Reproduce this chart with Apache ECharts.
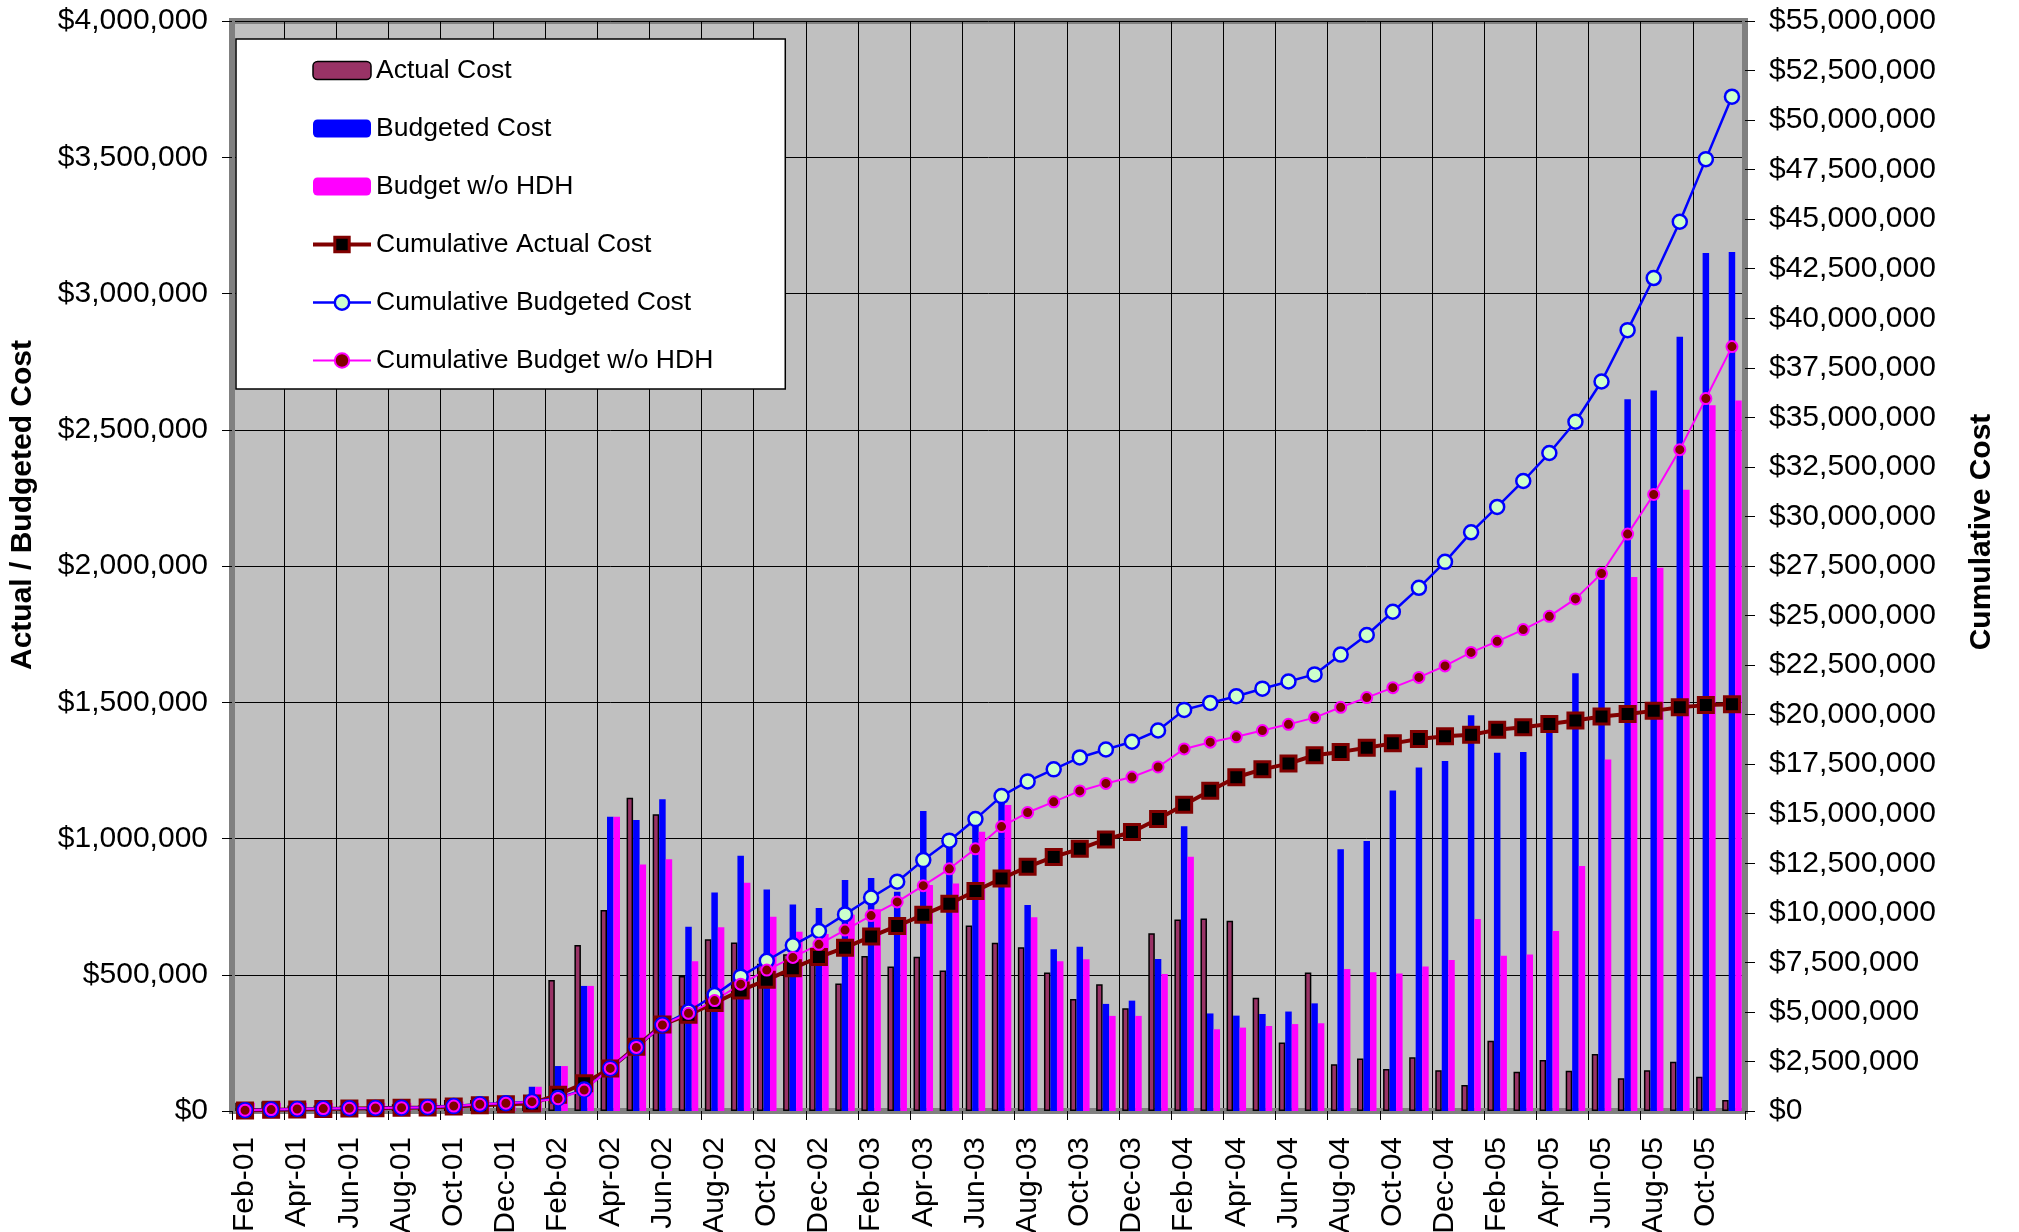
<!DOCTYPE html>
<html>
<head>
<meta charset="utf-8">
<title>Actual / Budgeted Cost</title>
<script src="https://cdn.jsdelivr.net/npm/echarts@6/dist/echarts.min.js"></script>
<style>
  html, body { margin: 0; padding: 0; background: #fff; }
  #chart { width: 2019px; height: 1232px; }
</style>
</head>
<body>
<div id="chart"></div>
<script>
// months on the category axis
const months = [
  "Feb-01", "Mar-01", "Apr-01", "May-01", "Jun-01", "Jul-01", "Aug-01", "Sep-01", "Oct-01", "Nov-01", "Dec-01",
  "Jan-02", "Feb-02", "Mar-02", "Apr-02", "May-02", "Jun-02", "Jul-02", "Aug-02", "Sep-02", "Oct-02", "Nov-02", "Dec-02",
  "Jan-03", "Feb-03", "Mar-03", "Apr-03", "May-03", "Jun-03", "Jul-03", "Aug-03", "Sep-03", "Oct-03", "Nov-03", "Dec-03",
  "Jan-04", "Feb-04", "Mar-04", "Apr-04", "May-04", "Jun-04", "Jul-04", "Aug-04", "Sep-04", "Oct-04", "Nov-04", "Dec-04",
  "Jan-05", "Feb-05", "Mar-05", "Apr-05", "May-05", "Jun-05", "Jul-05", "Aug-05", "Sep-05", "Oct-05", "Nov-05"
];

// monthly bars (left axis)
const actualCost = [
  30000, 35000, 20000, 20000, 20000, 15000, 25000, 20000, 40000, 40000, 35000, 30000,
  481000, 609000, 738000, 1150000, 1089000, 495000, 630000, 618000, 540000, 575000, 555000, 468000,
  569000, 530000, 566000, 516000, 681000, 617000, 601000, 508000, 411000, 465000, 377000, 652000,
  703000, 706000, 698000, 416000, 251000, 508000, 172000, 193000, 154000, 197000, 150000, 95000,
  258000, 144000, 187000, 148000, 209000, 120000, 150000, 181000, 126000, 40000
];
const budgetedCost = [
  30000, 30000, 30000, 30000, 30000, 30000, 30000, 30000, 35000, 40000, 35000, 89000,
  165000, 459000, 1080000, 1068000, 1144000, 676000, 802000, 937000, 813000, 758000, 745000, 848000,
  855000, 805000, 1101000, 970000, 1090000, 1150000, 756000, 594000, 603000, 393000, 405000, 558000,
  1045000, 358000, 350000, 356000, 365000, 395000, 961000, 991000, 1176000, 1261000, 1284000, 1452000,
  1315000, 1317000, 1400000, 1606000, 1965000, 2612000, 2644000, 2841000, 3149000, 3152000
];
const budgetNoHdh = [
  30000, 30000, 30000, 30000, 30000, 30000, 30000, 30000, 35000, 40000, 35000, 89000,
  165000, 459000, 1080000, 905000, 924000, 550000, 674000, 838000, 713000, 658000, 650000, 720000,
  740000, 700000, 829000, 835000, 1025000, 1123000, 711000, 550000, 557000, 349000, 349000, 503000,
  933000, 300000, 306000, 312000, 319000, 322000, 521000, 509000, 505000, 530000, 554000, 705000,
  570000, 574000, 661000, 899000, 1290000, 1960000, 1994000, 2280000, 2590000, 2607000
];

// cumulative lines (right axis)
const cumActual = [
  30000, 60000, 80000, 100000, 120000, 140000, 160000, 180000, 230000, 290000, 340000, 380000,
  820000, 1400000, 2140000, 3240000, 4360000, 4860000, 5450000, 6080000, 6620000, 7200000, 7770000, 8240000,
  8800000, 9340000, 9900000, 10460000, 11100000, 11730000, 12320000, 12820000, 13230000, 13700000, 14080000, 14730000,
  15450000, 16160000, 16840000, 17240000, 17530000, 17950000, 18120000, 18330000, 18550000, 18770000, 18910000, 18980000,
  19240000, 19360000, 19530000, 19700000, 19910000, 20030000, 20190000, 20370000, 20480000, 20520000
];
const cumBudgeted = [
  40000, 70000, 100000, 120000, 140000, 150000, 170000, 190000, 250000, 340000, 390000, 480000,
  650000, 1080000, 2150000, 3220000, 4350000, 5020000, 5850000, 6780000, 7580000, 8360000, 9080000, 9920000,
  10770000, 11570000, 12660000, 13640000, 14730000, 15890000, 16630000, 17240000, 17840000, 18240000, 18630000, 19200000,
  20240000, 20590000, 20930000, 21310000, 21670000, 22030000, 23030000, 24020000, 25190000, 26400000, 27710000, 29200000,
  30480000, 31790000, 33200000, 34780000, 36810000, 39400000, 42030000, 44870000, 48030000, 51180000
];
const cumNoHdh = [
  40000, 70000, 100000, 120000, 140000, 150000, 170000, 190000, 250000, 340000, 390000, 470000,
  620000, 1060000, 2150000, 3210000, 4340000, 4930000, 5570000, 6400000, 7110000, 7750000, 8410000, 9130000,
  9860000, 10550000, 11370000, 12220000, 13230000, 14350000, 15060000, 15600000, 16150000, 16530000, 16850000, 17360000,
  18270000, 18610000, 18880000, 19200000, 19510000, 19850000, 20370000, 20860000, 21360000, 21880000, 22460000, 23140000,
  23700000, 24290000, 24960000, 25840000, 27120000, 29110000, 31110000, 33370000, 35950000, 38570000
];

const FONT = "'Liberation Sans', Arial, sans-serif";

function money(v) {
  return "$" + v.toLocaleString("en-US");
}

const chart = echarts.init(document.getElementById("chart"));

chart.setOption({
  animation: false,
  backgroundColor: "#fff",
  textStyle: { fontFamily: FONT },
  grid: {
    left: 232,
    right: 274,
    top: 21,
    bottom: 121,
    outerBoundsMode: "none",
    show: true,
    backgroundColor: "#c0c0c0",
    borderColor: "#808080",
    borderWidth: 6
  },
  legend: {
    orient: "vertical",
    left: 236,
    top: 39,
    backgroundColor: "#fff",
    borderColor: "#000",
    borderWidth: 1.5,
    padding: [18, 72, 15, 75],
    itemWidth: 58,
    itemHeight: 18,
    itemGap: 31,
    itemStyle: { borderWidth: "inherit" },
    lineStyle: { width: "inherit" },
    textStyle: { fontSize: 26.5, color: "#000", fontFamily: FONT }
  },
  xAxis: {
    type: "category",
    data: months,
    boundaryGap: true,
    axisLine: { lineStyle: { color: "#808080", width: 6 } },
    axisTick: { show: true, interval: 1, length: 9, lineStyle: { color: "#000", width: 1 } },
    axisLabel: { interval: 1, rotate: 90, fontSize: 30, color: "#000", fontFamily: FONT, margin: 26 },
    splitLine: { show: true, interval: 1, lineStyle: { color: "#000", width: 1 } }
  },
  yAxis: [
    {
      type: "value",
      position: "left",
      min: 0,
      max: 4000000,
      interval: 500000,
      name: "Actual / Budgeted Cost",
      nameLocation: "middle",
      nameRotate: 90,
      nameGap: 194,
      nameTextStyle: { fontSize: 30, fontWeight: "bold", color: "#000", fontFamily: FONT, padding: [0, 0, 0, 122] },
      axisLine: { show: true, lineStyle: { color: "#808080", width: 6 } },
      axisTick: { show: true, length: 10, lineStyle: { color: "#000" } },
      axisLabel: { formatter: money, fontSize: 30, color: "#000", fontFamily: FONT, margin: 24 },
      splitLine: { show: true, lineStyle: { color: "#000", width: 1 } }
    },
    {
      type: "value",
      position: "right",
      min: 0,
      max: 55000000,
      interval: 2500000,
      name: "Cumulative Cost",
      nameLocation: "middle",
      nameRotate: 90,
      nameGap: 222,
      nameTextStyle: { fontSize: 30, fontWeight: "bold", color: "#000", fontFamily: FONT, padding: [0, 0, 0, 68] },
      axisLine: { show: true, lineStyle: { color: "#808080", width: 6 } },
      axisTick: { show: true, length: 10, lineStyle: { color: "#000" } },
      axisLabel: { formatter: money, fontSize: 30, color: "#000", fontFamily: FONT, margin: 24 },
      splitLine: { show: false }
    }
  ],
  series: [
    {
      name: "Actual Cost",
      type: "bar",
      yAxisIndex: 0,
      data: actualCost,
      barWidth: 6.5,
      barGap: "0%",
      itemStyle: { color: "#993366", borderColor: "#000", borderWidth: 1.5 }
    },
    {
      name: "Budgeted Cost",
      type: "bar",
      yAxisIndex: 0,
      data: budgetedCost,
      barWidth: 6.5,
      barGap: "0%",
      itemStyle: { color: "#0000ff" }
    },
    {
      name: "Budget w/o HDH",
      type: "bar",
      yAxisIndex: 0,
      data: budgetNoHdh,
      barWidth: 6.5,
      barGap: "0%",
      itemStyle: { color: "#ff00ff" }
    },
    {
      name: "Cumulative Actual Cost",
      type: "line",
      yAxisIndex: 1,
      data: cumActual,
      symbol: "rect",
      symbolSize: 15,
      showAllSymbol: true,
      lineStyle: { color: "#800000", width: 4 },
      itemStyle: { color: "#000", borderColor: "#800000", borderWidth: 3 }
    },
    {
      name: "Cumulative Budgeted Cost",
      type: "line",
      yAxisIndex: 1,
      data: cumBudgeted,
      symbol: "circle",
      symbolSize: 14,
      showAllSymbol: true,
      lineStyle: { color: "#0000ff", width: 2.5 },
      itemStyle: { color: "#ccffcc", borderColor: "#0000ff", borderWidth: 2.5 }
    },
    {
      name: "Cumulative Budget w/o HDH",
      type: "line",
      yAxisIndex: 1,
      data: cumNoHdh,
      symbol: "circle",
      symbolSize: 11,
      showAllSymbol: true,
      lineStyle: { color: "#ff00ff", width: 2 },
      itemStyle: { color: "#800000", borderColor: "#ff00ff", borderWidth: 2 }
    }
  ]
});
</script>
</body>
</html>
